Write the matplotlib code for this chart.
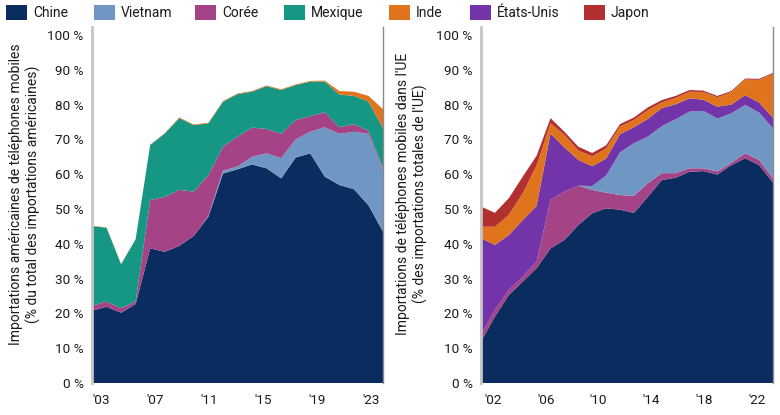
import matplotlib
matplotlib.use("Agg")
import matplotlib.pyplot as plt
from matplotlib.patches import Rectangle
import numpy as np

plt.rcParams['font.family'] = ['Roboto', 'DejaVu Sans']

# ---------------- data ----------------
legend_labels = ["Chine", "Vietnam", "Corée", "Mexique", "Inde", "États-Unis", "Japon"]
colors = {"Chine": "#0b2c5f", "Vietnam": "#7097c4", "Corée": "#a44487",
          "Mexique": "#169784", "Inde": "#e0741c", "États-Unis": "#7434a9",
          "Japon": "#b2302f"}

# US imports (% of total US mobile phone imports), 21 annual points
us_chine = [20.8, 21.9, 20.2, 22.7, 38.7, 37.7, 39.4, 42.3, 47.8, 60.2, 61.4,
            62.8, 61.7, 58.8, 64.8, 66.0, 59.3, 56.9, 55.7, 51.1, 43.5]
us_vietnam = [0, 0, 0, 0, 0, 0, 0, 0, 0.2, 0.8, 0.8,
              2.2, 4.3, 5.8, 5.2, 6.2, 14.2, 14.7, 16.5, 20.5, 17.7]
us_coree = [1.4, 1.5, 1.3, 0.7, 13.9, 15.8, 16.1, 12.7, 11.8, 6.9, 8.6,
            8.4, 7.0, 7.0, 5.6, 4.5, 4.3, 1.9, 2.2, 0.9, 0.5]
us_mexique = [22.9, 21.2, 12.6, 17.9, 15.8, 18.2, 20.6, 19.1, 14.8, 12.9, 12.2,
              10.3, 12.3, 12.6, 10.0, 9.9, 8.8, 9.4, 8.1, 8.4, 11.5]
us_inde = [0.1, 0.1, 0.1, 0.1, 0.1, 0.1, 0.2, 0.2, 0.2, 0.2, 0.2,
           0.2, 0.2, 0.2, 0.2, 0.2, 0.3, 1.0, 1.2, 1.6, 5.5]
us_ticklabels = ["'03", "'07", "'11", "'15", "'19", "'23"]

# EU imports (% of total EU mobile phone imports), 22 annual points
eu_chine = [11.9, 19.1, 25.3, 29.1, 33.0, 38.7, 41.1, 45.4, 48.8, 50.2, 49.8,
            48.9, 53.5, 58.3, 59.0, 60.7, 60.9, 59.9, 62.6, 64.6, 62.6, 57.6]
eu_coree = [1.9, 1.9, 1.4, 1.4, 1.9, 13.9, 13.9, 11.3, 6.7, 4.5, 4.2,
            4.9, 3.9, 2.0, 1.3, 1.0, 0.8, 0.9, 0.7, 1.4, 1.5, 1.2]
eu_vietnam = [0, 0, 0, 0, 0, 0, 0, 0, 1.1, 4.9, 12.3,
              15.1, 13.4, 13.5, 15.5, 16.3, 16.5, 15.2, 14.2, 13.9, 13.6, 14.4]
eu_etatsunis = [27.8, 18.7, 15.8, 16.3, 16.0, 19.1, 12.7, 7.4, 5.7, 4.9, 5.2,
                4.6, 5.1, 5.2, 4.3, 3.8, 3.2, 3.4, 2.5, 2.8, 2.9, 3.0]
eu_inde = [3.3, 5.2, 5.8, 7.7, 11.6, 2.9, 3.6, 2.7, 2.8, 2.9, 2.2,
           2.1, 2.5, 1.6, 1.8, 1.9, 2.2, 2.7, 3.6, 4.5, 6.5, 12.6]
eu_japon = [5.8, 4.0, 4.8, 4.8, 2.8, 1.5, 0.9, 1.1, 1.0, 0.9, 0.7,
            0.7, 0.8, 0.7, 0.6, 0.5, 0.4, 0.4, 0.3, 0.3, 0.3, 0.3]
eu_ticklabels = ["'02", "'06", "'10", "'14", "'18", "'22"]

y_ticks = list(range(0, 101, 10))

# ---------------- figure ----------------
W, H = 780, 415
fig = plt.figure(figsize=(W / 100, H / 100), dpi=100)


def rect(x0, x1, y0, y1):
    return [x0 / W, 1 - y1 / H, (x1 - x0) / W, (y1 - y0) / H]


ax1 = fig.add_axes(rect(92, 383, 27, 383))
ax2 = fig.add_axes(rect(481, 773, 27, 383))

x_us = np.arange(len(us_chine))
ax1.stackplot(x_us, us_chine, us_vietnam, us_coree, us_mexique, us_inde,
              colors=[colors[k] for k in ["Chine", "Vietnam", "Corée", "Mexique", "Inde"]],
              linewidth=0)

x_eu = np.arange(len(eu_chine))
ax2.stackplot(x_eu, eu_chine, eu_coree, eu_vietnam, eu_etatsunis, eu_inde, eu_japon,
              colors=[colors[k] for k in ["Chine", "Corée", "Vietnam", "États-Unis", "Inde", "Japon"]],
              linewidth=0)

for ax, n, labels, start, step in [(ax1, len(us_chine), us_ticklabels, 0.62, 3.71),
                                   (ax2, len(eu_chine), eu_ticklabels, 0.87, 3.79)]:
    ax.set_xlim(0, n - 1)
    ax.set_ylim(0, 102.3)
    ax.set_yticks(y_ticks)
    ax.set_yticklabels([f"{v} %" for v in y_ticks])
    ax.set_xticks([start + step * k for k in range(len(labels))])
    ax.set_xticklabels(labels)
    ax.tick_params(axis='both', length=0, labelsize=9.7, colors='#1a1a1a')
    ax.tick_params(axis='y', pad=6)
    ax.tick_params(axis='x', pad=8)
    ax.spines['top'].set_visible(False)
    ax.spines['bottom'].set_visible(False)
    ax.spines['left'].set_color('#c4c4c4')
    ax.spines['left'].set_linewidth(2)
    ax.spines['right'].set_color('#8a8a8a')
    ax.spines['right'].set_linewidth(1)
    ax.set_facecolor('white')

# y-axis titles
fig.text(25 / W, 1 - 194 / H,
         "Importations américaines de téléphones mobiles\n(% du total des importations américaines)",
         rotation=90, ha='center', va='center', multialignment='center',
         fontsize=10, color='#1a1a1a', linespacing=1.15)
fig.text(412 / W, 1 - 194 / H,
         "Importations de téléphones mobiles dans l'UE\n(% des importations totales de l'UE)",
         rotation=90, ha='center', va='center', multialignment='center',
         fontsize=10, color='#1a1a1a', linespacing=1.15)

# legend (manual, top row)
leg_x = [6, 94, 195, 284, 389, 470, 584]
for lab, lx in zip(legend_labels, leg_x):
    fig.patches.append(Rectangle((lx / W, 1 - 20.5 / H), 21 / W, 15 / H,
                                 transform=fig.transFigure, facecolor=colors[lab],
                                 edgecolor='none'))
    fig.text((lx + 27) / W, 1 - 13 / H, lab, ha='left', va='center',
             fontsize=10, color='#1a1a1a')

fig.savefig("out.png", dpi=100)
